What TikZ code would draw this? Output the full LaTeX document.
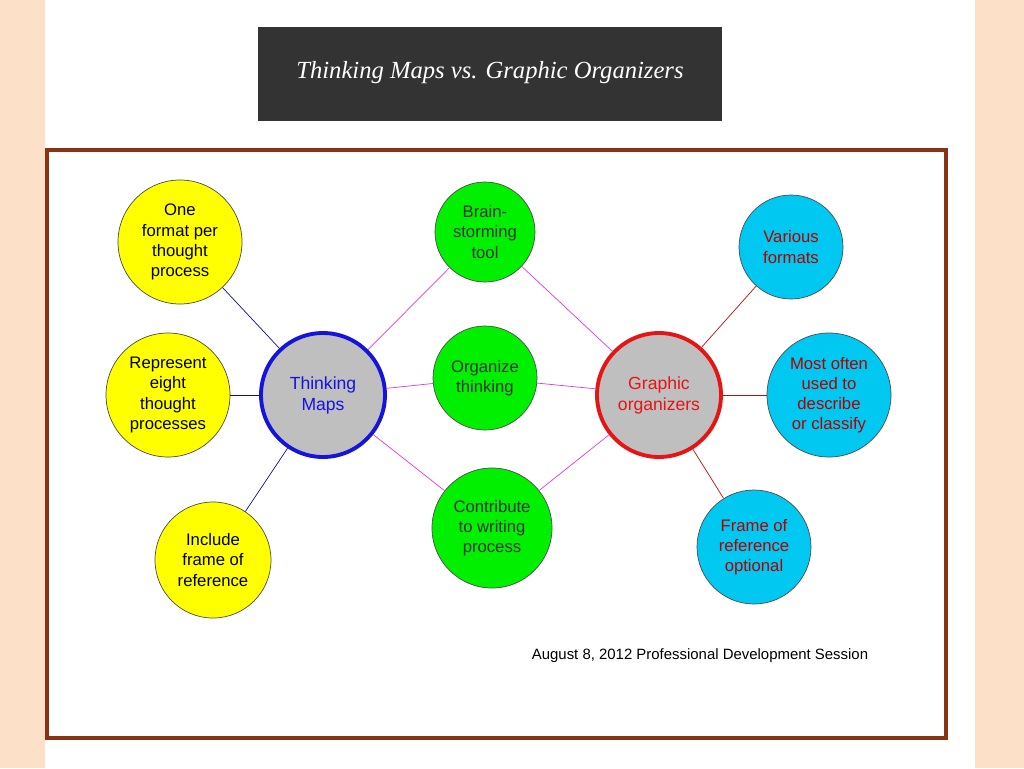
\documentclass[tikz,border=0pt]{standalone}
\usepackage{fontspec}
\setmainfont{Liberation Sans}
\newfontfamily\titlefont{Liberation Serif}
\usetikzlibrary{positioning}
\definecolor{pageBg}{RGB}{252,224,200}
\definecolor{frameBrown}{RGB}{140,50,20}
\definecolor{yelFill}{RGB}{255,255,0}
\definecolor{grnFill}{RGB}{0,240,0}
\definecolor{cyaFill}{RGB}{0,200,240}
\definecolor{tmBlue}{RGB}{20,20,220}
\definecolor{goRed}{RGB}{230,20,20}
\definecolor{linkPink}{RGB}{220,60,220}
\tikzset{
  bubble/.style={circle, draw=black!70, thin, align=center, inner sep=0pt,
    font=\fontsize{9.5}{11.5}\selectfont},
  yel/.style={bubble, fill=yelFill, text=black},
  grn/.style={bubble, fill=grnFill, text=black!80},
  cya/.style={bubble, fill=cyaFill, text=red!70!black},
  hub/.style={circle, fill=black!25, line width=2.2pt, align=center,
    minimum size=124*0.02cm, font=\fontsize{10}{12}\selectfont}
}
\begin{document}
\begin{tikzpicture}[x=0.02cm,y=-0.02cm]
  % page and frame
  \fill[pageBg] (0,0) rectangle (1024,768);
  \fill[white] (45,0) rectangle (975,768);
  \useasboundingbox (0,0) rectangle (1024,768);
  \fill[black!80] (258,27) rectangle (722,121);
  \node[text=white, font=\titlefont\itshape\fontsize{14}{16}\selectfont] (title) at (490,73) {Thinking Maps vs. Graphic Organizers};
  \draw[frameBrown, line width=2pt] (47,150) rectangle (946,738);

  % hubs
  \node[hub, draw=tmBlue, text=tmBlue] (tm) at (323,395) {Thinking\\Maps};
  \node[hub, draw=goRed, text=goRed] (go) at (659,395) {Graphic\\organizers};

  % yellow bubbles
  \node[yel, minimum size=124*0.02cm] (one) at (180,242) {One\\format per\\thought\\process};
  \node[yel, minimum size=124*0.02cm] (rep) at (168,395) {Represent\\eight\\thought\\processes};
  \node[yel, minimum size=116*0.02cm] (inc) at (213,560) {Include\\frame of\\reference};

  % green bubbles
  \node[grn, minimum size=100*0.02cm] (brain) at (485,232) {Brain-\\storming\\tool};
  \node[grn, minimum size=104*0.02cm] (org) at (485,378) {Organize\\thinking};
  \node[grn, minimum size=120*0.02cm] (contr) at (492,528) {Contribute\\to writing\\process};

  % cyan bubbles
  \node[cya, minimum size=104*0.02cm] (var) at (791,247) {Various\\formats};
  \node[cya, minimum size=124*0.02cm] (most) at (829,395) {Most often\\used to\\describe\\or classify};
  \node[cya, minimum size=114*0.02cm] (frame) at (754,547) {Frame of\\reference\\optional};

  % links
  \draw[tmBlue!70!black] (tm) -- (one);
  \draw[tmBlue!70!black] (tm) -- (rep);
  \draw[tmBlue!70!black] (tm) -- (inc);
  \foreach \g in {brain,org,contr} {
    \draw[linkPink] (tm) -- (\g);
    \draw[linkPink] (go) -- (\g);
  }
  \draw[goRed!80!black] (go) -- (var);
  \draw[goRed!80!black] (go) -- (most);
  \draw[goRed!80!black] (go) -- (frame);

  \node[font=\fontsize{8.5}{10}\selectfont] (date) at (700,656) {August 8, 2012 Professional Development Session};
\end{tikzpicture}
\end{document}
